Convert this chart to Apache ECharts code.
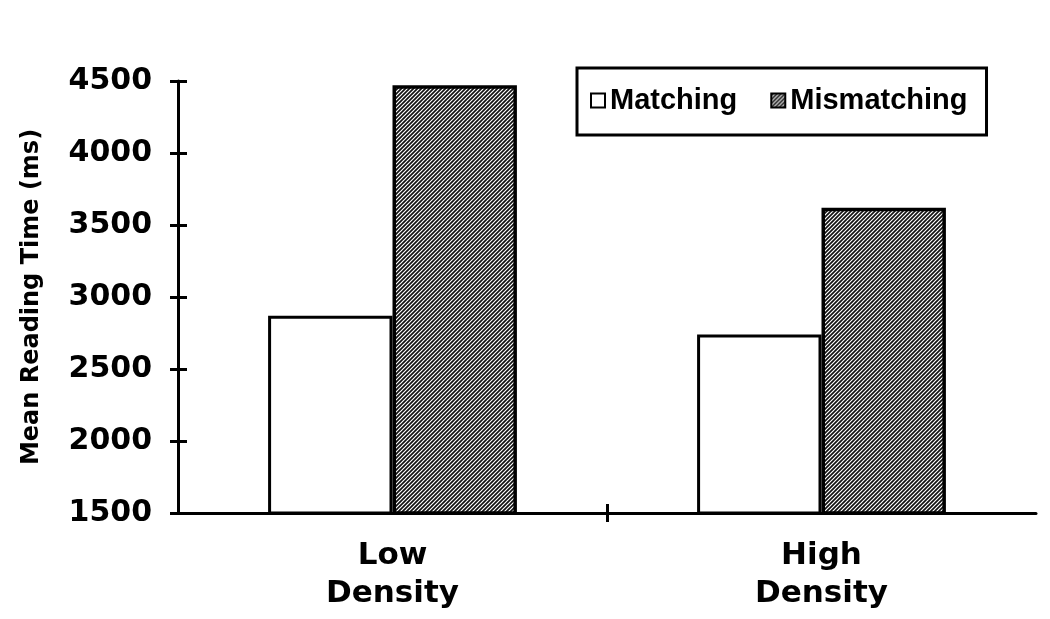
<!DOCTYPE html>
<html>
<head>
<meta charset="utf-8">
<script src="https://cdn.jsdelivr.net/npm/echarts@6.0.0/dist/echarts.min.js"></script>
<style>
  html, body { margin: 0; padding: 0; background: #fff; }
  #myChartDensity { width: 1050px; height: 619px; }
</style>
</head>
<body>
<div id="myChartDensity"></div>
<script>
// data
const categories = ["Low\nDensity", "High\nDensity"];
const seriesNames = ["Matching", "Mismatching"];
const matching = [2870, 2740];
const mismatching = [4470, 3620];
const yMin = 1500;
const yMax = 4500;
const yStep = 500;

const black = "#000";
const boldFont = "DejaVu Sans";

// hatch fill for the mismatching bars
function hatch() {
  const c = document.createElement("canvas");
  c.width = 4;
  c.height = 4;
  const ctx = c.getContext("2d");
  ctx.fillStyle = "#111";
  ctx.fillRect(0, 0, 4, 4);
  ctx.strokeStyle = "#fff";
  ctx.lineWidth = 1.2;
  ctx.beginPath();
  ctx.moveTo(0, 4); ctx.lineTo(4, 0);
  ctx.moveTo(-1, 1); ctx.lineTo(1, -1);
  ctx.moveTo(3, 5); ctx.lineTo(5, 3);
  ctx.stroke();
  return c;
}

let myChart = echarts.init(document.getElementById("myChartDensity"));

var option = {
  animation: false,
  backgroundColor: "#fff",
  grid: {
    left: 178,
    right: 14,
    top: 81,
    bottom: 106
  },
  legend: {
    data: seriesNames,
    left: 577,
    top: 68,
    orient: "horizontal",
    icon: "rect",
    itemWidth: 14,
    itemHeight: 14,
    itemGap: 33,
    padding: [18, 19, 20, 13],
    borderColor: black,
    borderWidth: 3,
    textStyle: {
      color: black,
      fontFamily: "Liberation Sans",
      fontWeight: "bold",
      fontSize: 29
    }
  },
  xAxis: [
    {
      type: "category",
      data: categories,
      axisLine: { onZero: false, lineStyle: { color: black, width: 3 } },
      axisTick: { show: false },
      axisLabel: {
        color: black,
        fontFamily: boldFont,
        fontWeight: "bold",
        fontSize: 31,
        lineHeight: 38,
        margin: 24
      }
    },
    {
      // only the middle tick, crossing the axis line
      type: "value",
      position: "bottom",
      min: 0,
      max: 2,
      offset: -9,
      axisLine: { show: false, onZero: false },
      splitLine: { show: false },
      axisLabel: { show: false },
      axisTick: {
        show: true,
        customValues: [1],
        length: 18,
        lineStyle: { color: black, width: 3 }
      }
    }
  ],
  yAxis: [
    {
      type: "value",
      min: yMin,
      max: yMax,
      interval: yStep,
      name: "Mean Reading Time (ms)",
      nameLocation: "middle",
      nameGap: 134,
      nameRotate: 90,
      nameTextStyle: {
        color: black,
        fontFamily: boldFont,
        fontWeight: "bold",
        fontSize: 24
      },
      axisLine: { show: true, onZero: false, lineStyle: { color: black, width: 3 } },
      axisTick: { show: true, length: 8, lineStyle: { color: black, width: 3 } },
      splitLine: { show: false },
      axisLabel: {
        color: black,
        fontFamily: boldFont,
        fontWeight: "bold",
        fontSize: 30,
        margin: 26,
        formatter: function (v) { return String(v); }
      }
    },
    {
      // inner half of the ticks
      type: "value",
      position: "left",
      min: yMin,
      max: yMax,
      interval: yStep,
      axisLine: { show: false, onZero: false },
      splitLine: { show: false },
      axisLabel: { show: false },
      axisTick: {
        show: true,
        inside: true,
        length: 9,
        lineStyle: { color: black, width: 3 }
      }
    }
  ],
  series: [
    {
      name: seriesNames[0],
      type: "bar",
      data: matching,
      barWidth: "29%",
      barGap: "0%",
      itemStyle: {
        color: "#fff",
        borderColor: black,
        borderWidth: 3
      }
    },
    {
      name: seriesNames[1],
      type: "bar",
      data: mismatching,
      barWidth: "29%",
      barGap: "0%",
      itemStyle: {
        color: { image: hatch(), repeat: "repeat" },
        borderColor: black,
        borderWidth: 3.5
      }
    }
  ]
};

myChart.setOption(option);
window.addEventListener("resize", function () {
  myChart.resize();
});
</script>
</body>
</html>
